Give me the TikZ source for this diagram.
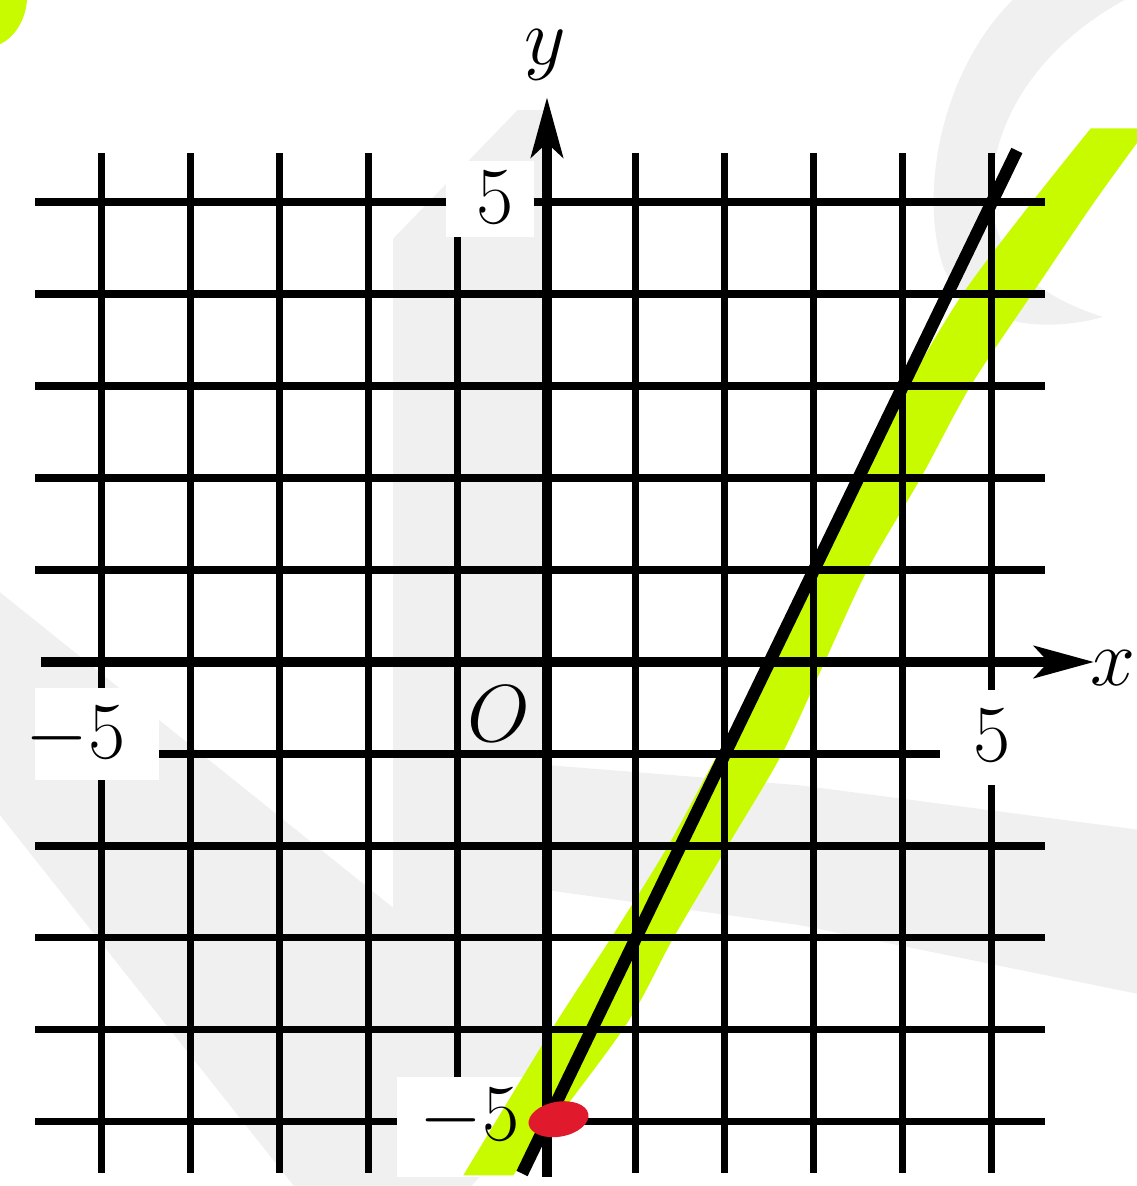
\RequirePackage{fix-cm}
\documentclass[tikz,border=0pt]{standalone}
\usepackage{tikz}
\usetikzlibrary{arrows.meta}
\definecolor{hlgreen}{RGB}{200,250,0}
\definecolor{dotred}{RGB}{225,25,45}
\tikzset{
  p wm/.style={fill=black!6},
  p hl/.style={fill=hlgreen},
  p gap/.style={fill=white},
  p grid/.style={line width=4pt},
  p axis/.style={line width=6pt, -{Stealth[length=34pt, width=18pt, inset=8pt]}},
  p graph/.style={line width=7pt},
  p num/.style={font=\fontsize{46}{52}\selectfont, inner sep=0pt},
  p dot/.style={fill=dotred},
}

\begin{document}
\begin{tikzpicture}[x=1.78cm, y=1.84cm]
\useasboundingbox (-6.146,-5.696) rectangle (6.629,7.196);
% ---- watermark ----
\fill[p wm] (-1.73,4.6) -- (-0.33,6.0) -- (0,6.0) -- (0,-4.8) -- (-0.9,-5.75) -- (-2.8,-5.75) -- (-6.2,-1.6) -- (-6.2,0.8) -- (-1.73,-2.67) -- cycle;
\fill[p wm] (0,-1.12) -- (2.84,-1.34) -- (6.7,-1.83) -- (6.7,-3.62) -- (2.84,-2.86) -- (0,-2.48) -- cycle;
\fill[p wm] (5.35,7.3) .. controls (4.5,6.6) and (4.15,5.2) .. (4.45,4.3) .. controls (4.7,3.7) and (5.5,3.55) .. (6.25,3.75)
  .. controls (5.6,3.95) and (5.05,4.3) .. (5.0,5.0) .. controls (4.95,5.9) and (5.6,6.8) .. (6.7,7.3) -- cycle;
% ---- room for the numbers ----
\fill[p gap] (-1.13,4.62) rectangle (-0.15,5.45);
\fill[p gap] (-5.75,-0.28) rectangle (-4.36,-1.28);
\fill[p gap] (4.42,-0.3) rectangle (5.6,-1.34);
\fill[p gap] (-1.68,-4.51) rectangle (-0.1,-5.6);
% ---- highlighter ----
\fill[p hl] plot[smooth] coordinates {(-0.94,-5.58) (0.05,-4) (0.72,-3) (1.36,-2) (1.92,-1) (2.5,0) (3.0,1) (3.5,2) (4.05,3) (4.67,4) (5.45,5) (6.11,5.8)}
  -- (6.8,5.8) -- plot[smooth] coordinates {(6.75,5.8) (6.15,5) (5.45,4) (4.76,3) (4.2,2) (3.6,1) (3.12,0) (2.64,-1) (2.03,-2) (1.42,-3) (0.85,-4) (-0.38,-5.58)} -- cycle;
\fill[p hl] (-6.31,7.25) ellipse [x radius=0.47, y radius=0.57];
% ---- grid ----
\foreach \y in {1,2,3,4,-2,-3,-4} \draw[p grid] (-5.75,\y) -- (5.6,\y);
\foreach \x in {-4,-3,-2,1,2,3,4} \draw[p grid] (\x,-5.55) -- (\x,5.53);
\draw[p grid] (-5.75,5) -- (-1.13,5) (-0.15,5) -- (5.6,5);
\draw[p grid] (-4.36,-1) -- (4.42,-1);
\draw[p grid] (-5.75,-5) -- (-1.68,-5) (0,-5) -- (5.6,-5);
\draw[p grid] (-5,-5.55) -- (-5,-1.28) (-5,-0.28) -- (-5,5.53);
\draw[p grid] (5,-5.55) -- (5,-1.34) (5,-0.3) -- (5,5.53);
\draw[p grid] (-1,-4.51) -- (-1,4.62);
% ---- axes ----
\draw[p axis] (-5.68,0) -- (6.15,0);
\draw[p axis] (0,-5.6) -- (0,6.14);
\node[p num] (lx) at (6.36,-0.07) {$x$};
\node[p num] (ly) at (-0.02,6.6) {$y$};
\node[p num] (o) at (-0.54,-0.56) {$O$};
\node[p num] (t5) at (-0.58,5.05) {5};
\node[p num] (l5) at (-5.3,-0.8) {$-5$};
\node[p num] (r5) at (5.0,-0.8) {5};
\node[p num] (b5) at (-0.87,-4.95) {$-5$};
% ---- graph ----
\coordinate (ga) at (-0.28,-5.56);
\coordinate (gb) at (5.28,5.56);
\draw[p graph] (ga) -- (gb);
\fill[p dot, rotate around={10:(0.13,-4.97)}] (0.13,-4.97) ellipse [x radius=0.34, y radius=0.19];
\end{tikzpicture}
\end{document}
